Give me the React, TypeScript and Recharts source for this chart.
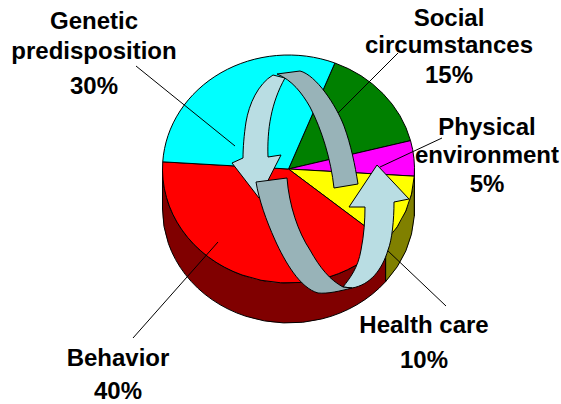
import { PieChart, Pie } from 'recharts';

const categories = ['Social circumstances', 'Physical environment', 'Health care', 'Behavior', 'Genetic predisposition'];
const shares = [15, 5, 10, 40, 30];
const topColors = ['#008000', '#ff00ff', '#ffff00', '#ff0000', '#00ffff'];
const wallColors = ['#004000', '#800080', '#808000', '#800000', '#008080'];

const CX = 288.5;
const CY = 169;
const RADIUS = 126;
const TILT = 114 / 126;
const DEPTH = 40;
const START = 68.4;

const rows = categories.map((name, i) => ({
  name,
  value: shares[i],
  fill: topColors[i],
  wall: wallColors[i],
}));

const ellipsePoint = (p: any, deg: number, dy = 0) => {
  const rad = (deg * Math.PI) / 180;
  const x = p.cx + p.outerRadius * Math.cos(rad);
  const y = p.cy - p.outerRadius * TILT * Math.sin(rad) + dy;
  return `${x} ${y}`;
};

// flat top of a slice, squashed to the ellipse
function TopSlice(p: any) {
  const rx = p.outerRadius;
  const ry = rx * TILT;
  const large = Math.abs(p.startAngle - p.endAngle) > 180 ? 1 : 0;
  const d = `M${p.cx} ${p.cy} L${ellipsePoint(p, p.startAngle)} A${rx} ${ry} 0 ${large} 1 ${ellipsePoint(p, p.endAngle)} Z`;
  return <path d={d} fill={p.fill} stroke="#000" strokeWidth={1} />;
}

// side wall, only the part on the front half of the pie shows
function WallSlice(p: any) {
  const from = Math.min(p.startAngle, 0);
  const to = Math.max(p.endAngle, -180);
  if (from <= to) return <g />;
  const rx = p.outerRadius;
  const ry = rx * TILT;
  const d =
    `M${ellipsePoint(p, from)} A${rx} ${ry} 0 0 1 ${ellipsePoint(p, to)} ` +
    `L${ellipsePoint(p, to, DEPTH)} A${rx} ${ry} 0 0 0 ${ellipsePoint(p, from, DEPTH)} Z`;
  return <path d={d} fill={p.payload.wall} stroke="#000" strokeWidth={1} />;
}

const leaders = [
  [136, 66, 235, 146],
  [398, 53, 338, 113],
  [442, 138, 380, 167],
  [133, 338, 218, 242],
  [446, 306, 387, 250],
];

const labelStyle = { fontFamily: '"Liberation Sans", Arial, sans-serif', fontWeight: 700, fontSize: 24, fill: '#000' };

const labels = [
  { x: 94, lines: [['Genetic', 29], ['predisposition', 59], [`${shares[4]}%`, 94]] },
  { x: 449, lines: [['Social', 26], ['circumstances', 53], [`${shares[0]}%`, 83]] },
  { x: 487, lines: [['Physical', 135], ['environment', 163], [`${shares[1]}%`, 192]] },
  { x: 118, lines: [['Behavior', 366], [`${shares[3]}%`, 398.5]] },
  { x: 424, lines: [['Health care', 333], [`${shares[2]}%`, 368]] },
];

const LIGHT = '#b9dde3';
const GREY = '#98b3b8';

export default function App() {
  return (
    <div style={{ position: 'absolute', left: 0, top: 0, width: 561, height: 404, background: '#fff' }}>
      <PieChart width={561} height={404} margin={{ top: 0, right: 0, bottom: 0, left: 0 }}>
        <Pie
          data={rows}
          dataKey="value"
          cx={CX}
          cy={CY}
          outerRadius={RADIUS}
          startAngle={START}
          endAngle={START - 360}
          shape={WallSlice}
          isAnimationActive={false}
        />
        <Pie
          data={rows}
          dataKey="value"
          cx={CX}
          cy={CY}
          outerRadius={RADIUS}
          startAngle={START}
          endAngle={START - 360}
          shape={TopSlice}
          isAnimationActive={false}
        />
      </PieChart>
      {/* the chart paints its pies last, so leaders, arrows and labels sit in their own layer */}
      <svg width={561} height={404} style={{ position: 'absolute', left: 0, top: 0 }}>
        {leaders.map(([x1, y1, x2, y2], i) => (
          <line key={i} x1={x1} y1={y1} x2={x2} y2={y2} stroke="#000" strokeWidth={1} />
        ))}
        <path
          d="M343 287 C350 278 358 268 361 250 C364 235 365 220 365 207 L349 207 L377 165 L409 199 L394 202 C394 220 392 240 388 250 C382 270 370 285 352 288 Z"
          fill={LIGHT}
          stroke="#000"
        />
        <path
          d="M285 78 L273 75 C258 84 249 104 246 122 C244 135 243 148 243 158 L232 163 L259 198 L281 155 L268 157 C267 130 271 103 285 78 Z"
          fill={LIGHT}
          stroke="#000"
        />
        <path
          d="M277 74 L300 71 C316 75 336 105 344 126 C351 145 355 165 358 184 L334 188 C331 160 322 130 310 107 C302 93 292 80 277 74 Z"
          fill={GREY}
          stroke="#000"
        />
        <path
          d="M256 182 L287 178 C289 205 298 232 310 250 C320 268 330 280 343 287 L352 288 C340 291 328 294 318 293 C300 288 285 262 275 240 C266 220 259 200 256 182 Z"
          fill={GREY}
          stroke="#000"
        />
        {labels.map((l) =>
          l.lines.map(([text, y]) => (
            <text key={String(text)} x={l.x} y={Number(y)} textAnchor="middle" style={labelStyle}>
              {text}
            </text>
          )),
        )}
      </svg>
    </div>
  );
}
